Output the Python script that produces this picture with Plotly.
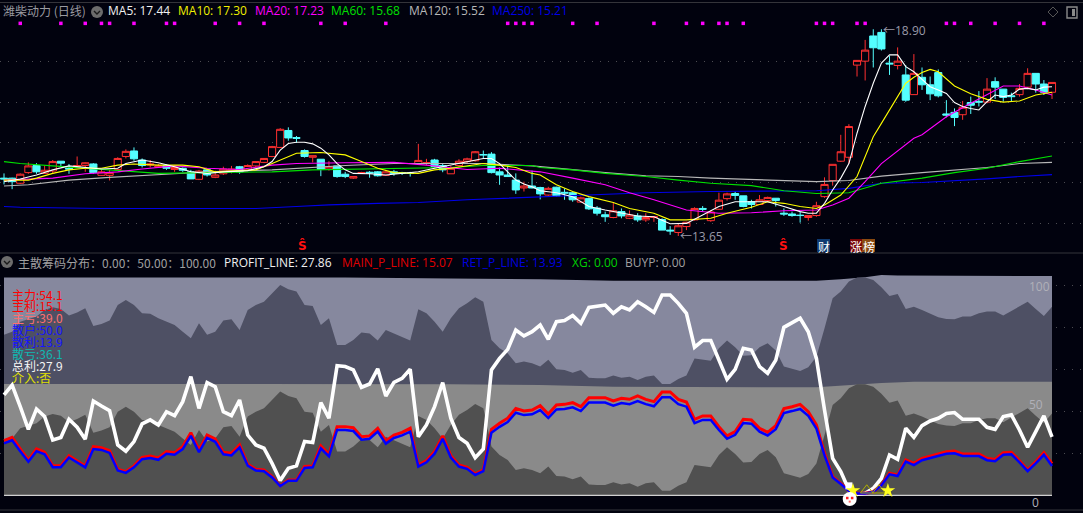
import plotly.graph_objects as go

W, H = 1083, 513
BG = "#01020e"
N = 130
bars = list(range(N))

opens = [15.12,15.12,14.99,15.26,15.44,15.24,15.30,15.55,15.37,15.41,
15.44,15.48,15.19,15.19,15.34,15.67,15.81,15.58,15.45,15.40,
15.44,15.34,15.37,15.28,15.09,15.33,15.14,15.23,15.30,15.41,
15.33,15.43,15.52,15.67,15.90,16.33,16.15,15.82,15.65,15.60,
15.35,15.43,15.22,15.12,15.24,15.27,15.28,15.19,15.28,15.26,
15.25,15.49,15.49,15.58,15.44,15.23,15.44,15.54,15.56,15.72,
15.73,15.28,15.20,15.07,14.87,14.92,14.88,14.69,14.89,14.76,
14.75,14.51,14.60,14.36,14.19,14.12,14.27,14.10,14.16,14.06,
14.12,14.07,13.80,13.74,13.89,14.06,14.35,14.04,14.33,14.60,
14.73,14.67,14.52,14.45,14.55,14.61,14.23,14.21,14.18,14.12,
14.17,14.65,15.06,15.55,15.65,17.99,18.09,18.73,18.82,18.04,
17.98,17.74,17.24,17.68,17.49,17.80,16.75,16.79,16.73,17.04,
17.07,17.05,17.57,17.38,17.21,17.24,17.43,17.78,17.51,17.30]
closes = [15.10,15.03,15.22,15.43,15.28,15.32,15.54,15.50,15.35,15.44,
15.51,15.26,15.28,15.26,15.62,15.80,15.61,15.44,15.48,15.43,
15.37,15.39,15.32,15.10,15.30,15.20,15.20,15.35,15.35,15.28,
15.44,15.54,15.62,15.92,16.36,16.14,16.13,15.67,15.69,15.34,
15.41,15.16,15.16,15.16,15.26,15.25,15.18,15.28,15.24,15.24,
15.24,15.57,15.51,15.41,15.33,15.37,15.55,15.61,15.79,15.71,
15.26,15.20,15.16,14.82,14.92,14.87,14.72,14.86,14.67,14.74,
14.57,14.62,14.34,14.23,14.14,14.29,14.16,14.18,14.06,14.12,
14.14,13.80,13.78,13.91,14.00,14.35,14.33,14.26,14.56,14.72,
14.68,14.40,14.45,14.57,14.63,14.55,14.21,14.17,14.17,14.17,
14.42,14.96,15.47,15.79,16.43,18.11,18.37,18.43,18.40,18.02,
18.09,17.10,17.78,17.49,17.26,17.21,16.72,16.66,16.92,16.97,
17.05,17.38,17.43,17.17,17.19,17.40,17.78,17.51,17.30,17.55]
highs = [15.24,15.13,15.24,15.52,15.50,15.44,15.58,15.55,15.48,15.67,
15.52,15.50,15.34,15.33,15.65,15.85,15.90,15.62,15.58,15.48,
15.47,15.39,15.39,15.33,15.33,15.35,15.31,15.41,15.43,15.43,
15.47,15.54,15.63,15.94,16.39,16.41,16.19,15.85,15.69,15.60,
15.55,15.43,15.28,15.16,15.28,15.30,15.30,15.33,15.33,15.28,
15.28,15.99,15.61,15.61,15.50,15.43,15.60,15.64,15.81,15.82,
15.78,15.39,15.44,15.24,15.03,15.31,14.90,14.90,14.90,14.86,
14.78,14.65,14.63,14.41,14.27,14.51,14.35,14.30,14.23,14.23,
14.16,14.10,13.90,13.96,14.01,14.38,14.41,14.31,14.75,14.75,
14.78,14.67,14.57,14.69,14.65,14.61,14.35,14.27,14.27,14.18,
14.52,15.14,15.47,16.22,16.49,18.11,18.63,18.90,18.90,18.22,
18.44,17.99,18.27,17.93,17.70,17.88,17.10,16.89,17.08,17.19,
17.33,17.66,17.68,17.38,17.29,17.51,17.91,17.78,17.61,17.55]
lows = [14.96,14.84,14.97,15.23,15.23,15.23,15.23,15.41,15.23,15.41,
15.28,15.23,15.18,15.06,15.31,15.62,15.56,15.39,15.39,15.39,
15.33,15.28,15.28,15.10,15.07,15.16,15.12,15.20,15.24,15.23,
15.31,15.39,15.50,15.65,15.88,16.07,16.02,15.64,15.52,15.17,
15.31,15.13,15.12,15.10,15.23,15.13,15.16,15.18,15.18,15.20,
15.16,15.49,15.45,15.39,15.27,15.23,15.41,15.50,15.54,15.62,
15.24,14.95,15.16,14.72,14.78,14.86,14.58,14.67,14.65,14.57,
14.52,14.50,14.31,14.17,14.01,14.10,14.10,14.08,14.01,14.01,
14.01,13.80,13.68,13.65,13.80,14.04,14.27,14.01,14.31,14.55,
14.57,14.38,14.35,14.44,14.52,14.40,14.16,14.14,13.99,14.04,
14.14,14.62,14.93,15.53,15.49,17.70,17.60,17.93,18.36,17.74,
17.88,17.06,17.23,17.36,17.10,17.17,16.66,16.44,16.60,16.75,
16.94,17.02,17.13,17.06,17.06,17.19,17.38,17.29,17.23,17.13]

ma5_x = [0,2,4,6,8,10,12,14,15,17,19,21,23,25,27,30,32,33,34,35,36,37,38,39,40,41,42,43,45,47,49,51,53,55,56,58,59,60,61,62,63,64,65,66,68,70,72,74,76,78,80,82,84,86,88,90,92,94,96,98,99,100,101,102,103,104,105,106,107,108,109,110,111,112,113,114,115,116,117,118,119,120,121,122,123,124,125,126,127,128,129]
ma5 = [15.03,15.10,15.20,15.33,15.43,15.39,15.35,15.37,15.49,15.58,15.51,15.41,15.28,15.24,15.28,15.31,15.41,15.54,15.83,16.00,16.03,16.03,15.99,15.88,15.71,15.49,15.33,15.24,15.23,15.20,15.24,15.28,15.37,15.45,15.49,15.58,15.62,15.62,15.49,15.28,15.07,14.97,14.90,14.80,14.75,14.65,14.40,14.31,14.23,14.16,14.14,13.96,13.97,14.18,14.40,14.52,14.52,14.52,14.40,14.27,14.23,14.23,14.48,14.82,15.12,15.49,16.26,16.94,17.53,18.04,18.25,18.25,17.95,17.82,17.63,17.44,17.36,17.27,17.04,16.94,16.89,16.85,17.06,17.23,17.19,17.23,17.38,17.40,17.36,17.43,17.44]
ma10_x = [0,3,4,6,8,10,12,14,16,19,22,24,26,28,31,33,36,39,42,44,46,48,51,53,55,59,61,63,65,66,68,70,72,75,77,80,82,84,87,89,92,94,96,98,100,101,103,105,106,107,108,109,110,111,112,113,114,115,117,119,121,123,125,127,129]
ma10 = [15.07,15.07,15.12,15.24,15.33,15.37,15.37,15.45,15.48,15.45,15.45,15.41,15.28,15.30,15.33,15.49,15.75,15.77,15.71,15.54,15.37,15.26,15.24,15.33,15.37,15.49,15.45,15.39,15.24,15.20,14.95,14.78,14.65,14.50,14.35,14.23,14.06,14.06,14.10,14.23,14.38,14.52,14.48,14.40,14.35,14.44,14.69,15.16,15.67,16.17,16.51,16.85,17.19,17.53,17.68,17.80,17.88,17.82,17.46,17.26,17.12,17.05,17.08,17.23,17.30]
ma20_x = [0,6,10,14,17,21,25,29,33,36,42,48,52,57,61,65,66,70,74,77,80,84,88,92,96,100,102,104,106,108,110,112,113,116,119,121,123,125,127,129]
ma20 = [15.07,15.12,15.23,15.28,15.35,15.43,15.37,15.34,15.45,15.49,15.51,15.52,15.45,15.34,15.37,15.31,15.28,15.12,14.95,14.75,14.57,14.31,14.23,14.24,14.29,14.31,14.44,14.61,15.03,15.49,15.82,16.13,16.22,16.68,17.02,17.23,17.46,17.46,17.36,17.23]
ma60_x = [0,2,6,10,14,19,25,33,38,42,48,55,59,65,66,70,74,79,83,87,92,96,100,104,108,113,117,121,125,129]
ma60 = [15.54,15.49,15.43,15.37,15.31,15.24,15.26,15.28,15.33,15.34,15.36,15.39,15.44,15.44,15.39,15.33,15.24,15.16,15.07,14.99,14.93,14.80,14.73,14.75,14.99,15.12,15.26,15.37,15.54,15.68]
ma120_x = [0,3,8,13,21,25,33,42,48,59,65,66,70,74,79,83,87,92,96,100,104,108,113,117,121,125,129]
ma120 = [14.92,14.95,15.07,15.14,15.23,15.28,15.33,15.44,15.49,15.49,15.43,15.41,15.33,15.26,15.18,15.16,15.12,15.09,15.05,15.03,15.06,15.17,15.26,15.33,15.39,15.49,15.52]
ma250_x = [0,2,12,31,36,40,46,51,57,63,66,70,74,79,87,96,100,104,108,113,117,121,125,129]
ma250 = [14.40,14.38,14.35,14.35,14.40,14.44,14.48,14.50,14.57,14.62,14.65,14.67,14.71,14.75,14.78,14.79,14.80,14.86,14.99,15.01,15.05,15.10,15.16,15.21]

signal_bars = [2,7,10,12,13,16,20,21,26,29,32,39,42,47,62,63,64,65,70,73,80,84,86,88,89,91,100,101,102,105,106,116,117,119,122,125,128]
signal_price = [19.05] * len(signal_bars)
price_grid = [18.09, 17.04, 16.03, 15.01, 13.97]

profit_line = [47.8,52.5,42.2,31.4,41.1,37.5,26.3,27.5,36.2,32.4,26.7,44.9,42.5,40.3,24.0,21.0,25.6,34.0,35.9,33.5,39.8,37.9,44.6,56.5,41.4,53.7,51.7,39.8,37.9,45.4,28.7,24.0,22.4,15.2,7.0,12.9,14.0,25.6,25.1,44.1,36.7,61.7,61.3,59.7,51.4,53.0,60.2,47.3,53.8,55.7,60.0,27.9,33.5,42.2,53.7,36.7,27.5,24.8,17.9,22.1,59.7,65.2,69.5,78.7,75.9,77.9,81.1,
74.3,82.7,83.2,85.6,81.9,89.5,90.2,90.6,86.7,89.8,88.3,92.2,89.8,87.1,95.4,95.4,91.4,86.7,70.5,73.7,73.7,64.0,55.2,60.0,70.0,69.2,61.3,58.1,64.4,80.0,82.2,84.3,77.9,65.2,40.6,17.6,11.3,2.5,0.5,1.0,3.3,8.1,19.2,17.1,31.9,27.6,33.2,35.4,36.7,39.0,39.4,36.2,36.2,36.2,32.4,31.4,37.5,38.3,31.1,22.9,30.3,37.8,27.86]
main_p_line = [26.0,27.6,22.1,16.8,22.1,20.5,14.1,14.1,18.9,16.5,14.0,23.2,22.7,21.3,12.4,11.3,14.0,18.1,18.7,17.8,20.8,20.3,23.2,29.8,21.6,28.7,26.8,20.5,20.0,24.0,14.8,12.4,12.1,8.9,4.6,7.3,7.3,13.7,14.0,23.5,19.5,32.7,32.7,32.2,27.9,28.3,31.9,25.9,28.7,30.0,31.9,14.4,16.5,20.8,28.3,18.9,14.4,13.3,10.2,12.1,31.4,34.3,36.7,41.4,40.2,40.6,42.7,
38.7,43.0,43.3,44.1,42.2,46.5,46.5,46.5,44.9,46.2,45.7,47.3,45.7,44.6,49.2,49.2,45.7,44.4,36.2,37.8,37.8,32.7,28.3,30.3,36.2,35.9,31.9,30.0,33.2,41.3,42.2,43.3,39.8,33.5,20.0,8.9,5.7,2.2,1.0,1.0,1.7,4.9,10.5,9.7,16.8,15.2,17.6,18.7,19.7,20.8,21.1,19.7,19.7,19.7,17.6,17.1,20.3,20.5,16.5,12.1,16.0,20.3,15.07]
ret_p_line = [24.7,26.2,21.0,16.0,21.0,19.5,13.4,13.4,18.0,15.7,13.3,22.0,21.6,20.2,11.8,10.7,13.3,17.2,17.8,16.9,19.8,19.3,22.0,28.3,20.5,27.3,25.5,19.5,19.0,22.8,14.1,11.8,11.5,8.5,4.4,6.9,6.9,13.0,13.3,22.3,18.5,31.1,31.1,30.6,26.5,26.9,30.3,24.6,27.3,28.5,30.3,13.7,15.7,19.8,26.9,18.0,13.7,12.6,9.7,11.5,29.8,32.6,34.9,39.3,38.2,38.6,40.6,
36.8,40.9,41.1,41.9,40.1,44.2,44.2,44.2,42.7,43.9,43.4,44.9,43.4,42.4,46.7,46.7,43.4,42.2,34.4,35.9,35.9,31.1,26.9,28.8,34.4,34.1,30.3,28.5,31.5,39.2,40.1,41.1,37.8,31.8,19.0,8.5,5.4,2.1,0.9,0.9,1.6,4.7,10.0,9.2,16.0,14.4,16.7,17.8,18.7,19.8,20.0,18.7,18.7,18.7,16.7,16.2,19.3,19.5,15.7,11.5,15.2,19.3,13.93]
lower_chip = [25.6,27.1,31.9,33.0,34.3,37.5,38.7,37.9,34.8,36.3,38.3,29.8,30.8,32.4,39.8,42.2,39.8,35.9,35.6,33.5,31.9,30.3,27.1,24.0,31.1,25.6,27.1,32.4,33.0,27.9,37.5,39.8,41.4,45.4,49.4,47.3,46.2,39.8,39.3,30.3,33.5,20.8,20.8,23.2,26.7,26.3,22.9,27.9,26.3,24.4,22.9,37.8,35.9,31.9,27.1,33.5,38.3,40.6,43.5,41.4,23.2,19.2,16.8,12.1,12.9,12.1,10.5,13.7,9.2,
8.9,7.6,8.9,5.2,4.9,4.9,6.2,5.2,5.7,4.1,5.7,6.2,2.2,2.2,4.6,6.2,14.4,13.7,13.3,19.2,22.9,19.7,15.6,15.9,19.7,21.6,18.1,10.5,9.4,8.4,10.2,15.2,28.7,43.0,46.2,51.0,52.9,52.9,51.7,48.3,44.1,45.1,37.9,39.0,37.5,35.6,34.0,33.2,33.0,34.3,34.3,35.9,36.7,36.7,34.8,37.0,39.0,41.4,37.9,34.6,39.0]
upper_chip = [76.4,77.9,82.7,83.8,85.1,88.3,89.5,88.7,85.6,87.1,89.1,80.6,81.6,83.2,90.6,93.0,90.6,86.7,86.4,84.3,82.7,81.1,77.9,74.8,81.9,76.4,77.9,83.2,83.8,78.7,88.3,90.6,92.2,96.2,100.2,98.1,97.0,90.6,90.1,81.1,84.3,71.6,71.6,74.0,77.5,77.1,73.7,78.7,77.1,75.2,73.7,88.6,86.7,82.7,77.9,84.3,89.1,91.4,94.3,92.2,74.0,70.0,67.6,62.9,63.7,62.9,61.3,64.5,60.0,
59.7,58.4,59.7,56.0,55.7,55.7,57.0,56.0,56.5,54.9,56.5,57.0,53.0,53.0,55.4,57.0,65.2,64.5,64.1,70.0,73.7,70.5,66.4,66.7,70.5,72.4,68.9,61.3,60.2,59.2,61.0,66.0,79.5,93.8,97.0,101.8,103.7,103.7,102.5,99.1,94.9,95.9,88.7,89.8,88.3,86.4,84.8,84.0,83.8,85.1,85.1,86.7,87.5,87.5,85.6,87.8,89.8,92.2,88.7,85.4,89.8]

mid_x = [0,40,55,66,75,100,104,108,112,129]
mid_chip = [53.0,53.0,52.9,52.5,51.7,51.4,52.5,53.5,54.1,54.1]
top_x = [0,42,55,66,75,100,103,106,108,110,129]
top_chip = [103.7,103.7,103.2,102.9,102.2,102.2,102.9,103.8,104.9,104.7,104.4]
chip_grid = [20, 40, 60, 80, 100]
base_x = [0, 129]
base_y = [0, 0]
star_x = [104.5, 108.8]
star_y = [2.2, 2.2]
tri_x = [106.2, 107.7]
tri_y = [2.4, 2.4]
flag_x = [104.0]
flag_y = [4.5]
face_x = [104.1]
face_y = [-1.8]
eye_x = [103.8, 104.4]
eye_y = [-1.3, -1.3]
mouth_x = [104.1]
mouth_y = [-3.0]

head_top = [("潍柴动力 (日线)", 2, "#9a9aa0"), ("MA5: 17.44", 106.5, "#f0f0f0"), ("MA10: 17.30", 176.5, "#f0f000"),
            ("MA20: 17.23", 253.5, "#ff00ff"), ("MA60: 15.68", 330.5, "#00e000"), ("MA120: 15.52", 407.5, "#b8b8b8"),
            ("MA250: 15.21", 491, "#0000e8")]
head_low = [("主散筹码分布：0.00：50.00：100.00", 17, "#a0a0a0"), ("PROFIT_LINE: 27.86", 223, "#f0f0f0"),
            ("MAIN_P_LINE: 15.07", 341, "#e00000"), ("RET_P_LINE: 13.93", 461, "#0000e0"),
            ("XG: 0.00", 570.5, "#00d000"), ("BUYP: 0.00", 623.5, "#a0a0a0")]
stat_lines = [("主力:54.1", "#ff0000"), ("主利:15.1", "#ff0000"), ("主亏:39.0", "#ff7070"), ("散户:50.0", "#1414ff"),
              ("散利:13.9", "#1414ff"), ("散亏:36.1", "#10b8b0"), ("总利:27.9", "#f4f4f4"), ("介入:否", "#e0e000")]
axis_marks = [("100", 1028, 286), ("50", 1028, 404), ("0", 1031, 502)]

FONT = "Open Sans, Noto Sans CJK SC, sans-serif"
CJK = "Noto Sans CJK SC, sans-serif"


def px(x):
    return x / W


def py(y):
    return 1 - y / H


def label(text, x, y, color, size=12, family=FONT, anchor="left", **extra):
    return dict(text=text, x=px(x), y=py(y), xref="paper", yref="paper", showarrow=False,
                xanchor=anchor, yanchor="middle", font=dict(color=color, size=size, family=family),
                borderpad=0, **extra)


fig = go.Figure()
fig.add_trace(go.Candlestick(
    x=bars, open=opens, high=highs, low=lows, close=closes, xaxis="x", yaxis="y",
    increasing=dict(line=dict(color="#ff3030", width=1), fillcolor=BG),
    decreasing=dict(line=dict(color="#54ffff", width=1), fillcolor="#54ffff"),
    whiskerwidth=0, hoverinfo="skip"))
for xs, ys, col in [(ma250_x, ma250, "#0000e8"), (ma120_x, ma120, "#b8b8b8"), (ma60_x, ma60, "#00e000"),
                    (ma20_x, ma20, "#ff00ff"), (ma10_x, ma10, "#ffff00"), (ma5_x, ma5, "#ffffff")]:
    fig.add_trace(go.Scatter(x=xs, y=ys, mode="lines", line=dict(color=col, width=1.1), xaxis="x", yaxis="y", hoverinfo="skip"))
fig.add_trace(go.Scatter(x=signal_bars, y=signal_price, mode="markers", xaxis="x", yaxis="y", hoverinfo="skip",
                         marker=dict(symbol="square", size=3.5, color="#ff00ff", line=dict(width=0))))

for xs, ys, col in [(top_x, top_chip, "#86889e"), (bars, upper_chip, "#4e5064"), (mid_x, mid_chip, "#8a8a8a"), (bars, lower_chip, "#505050")]:
    fig.add_trace(go.Scatter(x=xs, y=ys, mode="lines", line=dict(width=0, color=col), fill="tozeroy", fillcolor=col,
                             xaxis="x2", yaxis="y2", hoverinfo="skip"))
fig.add_trace(go.Scatter(x=base_x, y=base_y, mode="lines", line=dict(color="#d0d0d0", width=1.2), xaxis="x2", yaxis="y2", hoverinfo="skip"))
fig.add_trace(go.Scatter(x=bars, y=profit_line, mode="lines", line=dict(color="#ffffff", width=3.6), xaxis="x2", yaxis="y2", hoverinfo="skip"))
fig.add_trace(go.Scatter(x=bars, y=main_p_line, mode="lines", line=dict(color="#ff0000", width=3), xaxis="x2", yaxis="y2", hoverinfo="skip"))
fig.add_trace(go.Scatter(x=bars, y=ret_p_line, mode="lines", line=dict(color="#0000ff", width=2.5), xaxis="x2", yaxis="y2", hoverinfo="skip"))
fig.add_trace(go.Scatter(x=flag_x, y=flag_y, mode="markers", xaxis="x2", yaxis="y2", hoverinfo="skip",
                         marker=dict(symbol="square", size=7, color="#ffffff", line=dict(width=0))))
fig.add_trace(go.Scatter(x=tri_x, y=tri_y, mode="markers", xaxis="x2", yaxis="y2", hoverinfo="skip",
                         marker=dict(symbol="triangle-up-open", size=11, color="#b0b000", line=dict(width=1, color="#b0b000"))))
fig.add_trace(go.Scatter(x=star_x, y=star_y, mode="markers", xaxis="x2", yaxis="y2", hoverinfo="skip",
                         marker=dict(symbol="star", size=11, color="#ffff20", line=dict(width=0))))
fig.add_trace(go.Scatter(x=face_x, y=face_y, mode="markers", xaxis="x2", yaxis="y2", hoverinfo="skip",
                         marker=dict(symbol="circle", size=14, color="#ffffff", line=dict(width=0))))
fig.add_trace(go.Scatter(x=eye_x, y=eye_y, mode="markers", xaxis="x2", yaxis="y2", hoverinfo="skip",
                         marker=dict(symbol="square", size=2.5, color="#ff2020", line=dict(width=0))))
fig.add_trace(go.Scatter(x=mouth_x, y=mouth_y, mode="markers", xaxis="x2", yaxis="y2", hoverinfo="skip",
                         marker=dict(symbol="square", size=2, color="#ff6060", line=dict(width=0))))

ann = []
for t, x, c in head_top:
    ann.append(label(t, x, 11, c, family=CJK if t.startswith("潍") else FONT))
for t, x, c in head_low:
    ann.append(label(t, x, 262, c, family=CJK if t.startswith("主") else FONT))
for k, (t, c) in enumerate(stat_lines):
    ann.append(label(t, 11, 294 + 11.9 * k, c, family=CJK))
for t, x, y in axis_marks:
    ann.append(label(t, x, y, "#b0b0b8"))
ann.append(dict(text="←18.90", x=108, y=18.88, xref="x", yref="y", showarrow=False, xanchor="left", yanchor="middle",
                font=dict(color="#9a9aa8", size=12, family=FONT)))
ann.append(dict(text="←13.65", x=83, y=13.63, xref="x", yref="y", showarrow=False, xanchor="left", yanchor="middle",
                font=dict(color="#9a9aa8", size=12, family=FONT)))
for x in (302, 783):
    ann.append(label("<b>Ŝ</b>", x, 245, "#ff1010", size=12, family="DejaVu Sans", anchor="center"))
ann.append(label("财", 823.5, 246, "#ffffff", size=12, family=CJK, anchor="center"))
ann.append(label("涨", 856, 246, "#ffffff", size=12, family=CJK, anchor="center"))
ann.append(label("榜", 868.5, 246, "#ffffff", size=12, family=CJK, anchor="center"))

shapes = []
for y in (2.5, 253, 510):
    shapes.append(dict(type="line", xref="paper", yref="paper", x0=0, x1=1, y0=py(y), y1=py(y), line=dict(color="#34343a", width=1)))
for x0, x1, col in ((817, 830, "#0f3a70"), (850, 862, "#7a0808"), (862, 875, "#8a4a10")):
    shapes.append(dict(type="rect", xref="paper", yref="paper", x0=px(x0), x1=px(x1), y0=py(252), y1=py(239),
                       fillcolor=col, line=dict(width=0)))
for cx, cy in ((97, 12), (7, 262)):
    shapes.append(dict(type="circle", xref="paper", yref="paper", x0=px(cx - 6), x1=px(cx + 6), y0=py(cy - 6), y1=py(cy + 6),
                       fillcolor="#6c6c6c", line=dict(width=0)))
    shapes.append(dict(type="path", xref="paper", yref="paper",
                       path=f"M {px(cx-3)} {py(cy-1)} L {px(cx)} {py(cy+2)} L {px(cx+3)} {py(cy-1)}",
                       line=dict(color="#1a1a1a", width=1.4)))
shapes.append(dict(type="path", xref="paper", yref="paper",
                   path=f"M {px(1053)} {py(7)} L {px(1058)} {py(12)} L {px(1053)} {py(17)} L {px(1048)} {py(12)} Z",
                   line=dict(color="#555555", width=1)))
shapes.append(dict(type="rect", xref="paper", yref="paper", x0=px(1067), x1=px(1077), y0=py(7), y1=py(18),
                   line=dict(color="#8a8a8a", width=1.4)))
shapes.append(dict(type="rect", xref="paper", yref="paper", x0=px(1072), x1=px(1075), y0=py(9), y1=py(16),
                   fillcolor="#8a8a8a", line=dict(width=0)))

bar_left = -4 / 8.124
bar_right = 129 + (W - 1052) / 8.124
xax = dict(range=[bar_left, bar_right], domain=[0, 1], showgrid=False, zeroline=False, showticklabels=False, ticks="", showline=False, rangeslider=dict(visible=False))
fig.update_layout(
    width=W, height=H, margin=dict(l=0, r=0, t=0, b=0), paper_bgcolor=BG, plot_bgcolor=BG, showlegend=False, boxgap=0.12, boxgroupgap=0,
    font=dict(family=FONT),
    xaxis=dict(xax, anchor="y"),
    xaxis2=dict(xax, anchor="y2"),
    yaxis=dict(domain=[py(250), py(8)], range=[13.295, 19.44], tickmode="array", tickvals=price_grid, showticklabels=False, ticks="",
               showgrid=True, gridcolor="#4c4c52", griddash="1px,7px", gridwidth=1, zeroline=False, showline=False),
    yaxis2=dict(domain=[py(510), py(270)], range=[-7.0, 107.29], tickmode="array", tickvals=chip_grid, showticklabels=False, ticks="",
                showgrid=True, gridcolor="#4c4c52", griddash="1px,7px", gridwidth=1, zeroline=False, showline=False),
    annotations=ann, shapes=shapes,
)
fig.write_html("out.html", config={"displayModeBar": False},
               post_script="document.body.style.margin='0';document.body.style.background='%s';" % BG)
